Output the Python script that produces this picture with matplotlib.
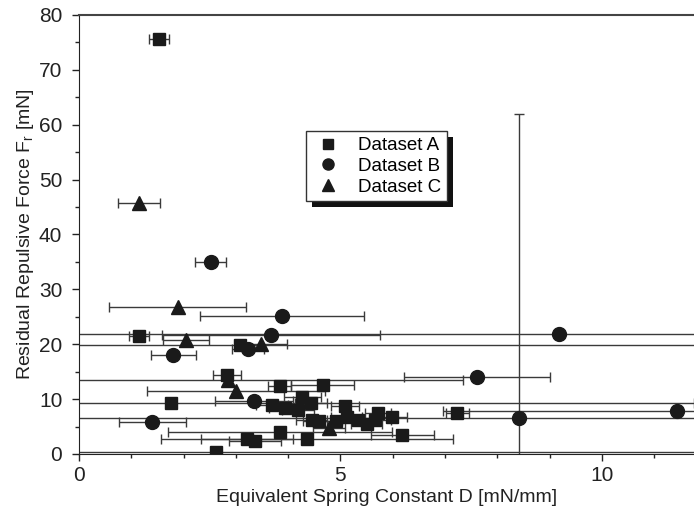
import matplotlib
matplotlib.use("Agg")
import matplotlib.pyplot as plt
from matplotlib.patches import Rectangle
from matplotlib.lines import Line2D
from matplotlib.transforms import IdentityTransform

plt.rcParams['font.family'] = ['Liberation Sans', 'DejaVu Sans']
plt.rcParams['mathtext.fontset'] = 'custom'
plt.rcParams['mathtext.rm'] = 'Liberation Sans'

# Dataset A (squares)
a_x = [1.53, 1.15, 3.08, 2.83, 3.84, 4.66, 1.76, 3.69, 3.94, 4.27, 4.44, 4.19, 5.09,
       5.98, 5.72, 5.12, 5.33, 5.50, 5.66, 4.45, 4.59, 4.92, 3.84, 6.18, 4.36, 7.23,
       3.21, 3.37, 2.62]
a_y = [75.6, 21.5, 19.9, 14.4, 12.3, 12.5, 9.2, 9.0, 8.4, 10.4, 9.3, 8.0, 8.8,
       6.8, 7.5, 6.8, 6.2, 5.4, 6.2, 6.2, 6.0, 6.0, 4.0, 3.5, 2.7, 7.5,
       2.7, 2.4, 0.4]
a_xerr = [0.2, 0.19, 9.5, 0.26, 0.22, 0.6, 10, 0.3, 0.3, 0.35, 0.3, 0.3, 0.27,
          0.3, 0.25, 0.3, 0.3, 0.3, 0.3, 0.3, 0.3, 0.3, 2.14, 0.6, 2.8, 0.22,
          0.88, 0.5, 12]

# Dataset B (circles)
b_x = [2.52, 3.88, 3.67, 9.18, 3.23, 1.80, 7.61, 3.35, 1.40, 8.41, 11.43]
b_y = [35.0, 25.1, 21.7, 21.9, 19.1, 18.0, 14.0, 9.6, 5.9, 6.6, 7.9]
b_xerr = [0.3, 1.57, 2.08, 10, 0.3, 0.43, 1.39, 0.75, 0.64, 9.5, 4.47]
b_yerr = [0, 0, 0, 0, 0, 0, 0, 0, 0, 55.4, 0]

# Dataset C (triangles)
c_x = [1.15, 1.89, 2.05, 3.48, 2.85, 3.00, 4.78]
c_y = [45.7, 26.8, 20.8, 20.0, 13.4, 11.5, 4.7]
c_xerr = [0.4, 1.31, 0.44, 0.5, 4.5, 1.7, 0.3]

labels = ['Dataset A', 'Dataset B', 'Dataset C']
mark = '#1a1a1a'

fig = plt.figure(figsize=(6.94, 5.17), dpi=100)
ax = fig.add_axes([0.1138, 0.1219, 0.8862, 0.8491])

ekw = dict(ls='none', ecolor='#3a3a3a', elinewidth=1.0, capsize=3.5, capthick=1.0,
           mfc=mark, mec=mark)
ax.errorbar(a_x, a_y, xerr=a_xerr, marker='s', ms=9, **ekw)
ax.errorbar(b_x, b_y, xerr=b_xerr, yerr=b_yerr, marker='o', ms=10, **ekw)
ax.errorbar(c_x, c_y, xerr=c_xerr, marker='^', ms=10, **ekw)

ax.set_xlim(0, 11.76)
ax.set_ylim(0, 80)
ax.set_xticks([0, 5, 10])
ax.set_xticks(range(0, 12), minor=True)
ax.set_yticks(range(0, 81, 10))
ax.set_yticks(range(0, 81, 5), minor=True)
ax.tick_params(which='major', direction='out', length=5, width=1, labelsize=15, colors='#222222')
ax.tick_params(axis='y', which='major', pad=7)
ax.tick_params(which='minor', direction='out', length=3, width=1, colors='#222222')
ax.spines['right'].set_visible(False)
ax.spines['top'].set_color('#444444')
ax.spines['top'].set_linewidth(1.5)
ax.spines['left'].set_color('#222222')
ax.spines['bottom'].set_color('#222222')

ax.set_xlabel('Equivalent Spring Constant D [mN/mm]', fontsize=14, color='#222222', labelpad=3)
ax.set_ylabel(r'Residual Repulsive Force F$_\mathrm{r}$ [mN]', fontsize=14, color='#222222', labelpad=2)

handles = [Line2D([], [], ls='none', marker=m, ms=s, mfc=mark, mec=mark)
           for m, s in [('s', 7), ('o', 8), ('^', 8.5)]]
leg = ax.legend(handles, labels, loc='upper left', bbox_to_anchor=(0.369, 0.735),
                borderaxespad=0, fontsize=13.5, frameon=True, framealpha=1,
                fancybox=False, edgecolor='#333333', handletextpad=0.7, borderpad=0.3,
                labelspacing=0.2, handlelength=1.8)
leg.get_frame().set_linewidth(1.0)
leg.set_zorder(6)

fig.canvas.draw()
bb = leg.get_window_extent()
shadow = Rectangle((bb.x0 + 6, bb.y0 - 6), bb.width, bb.height, transform=IdentityTransform(),
                   facecolor='#111111', edgecolor='none', zorder=5.5, clip_on=False)
ax.add_artist(shadow)

fig.savefig('out.png', dpi=100)
